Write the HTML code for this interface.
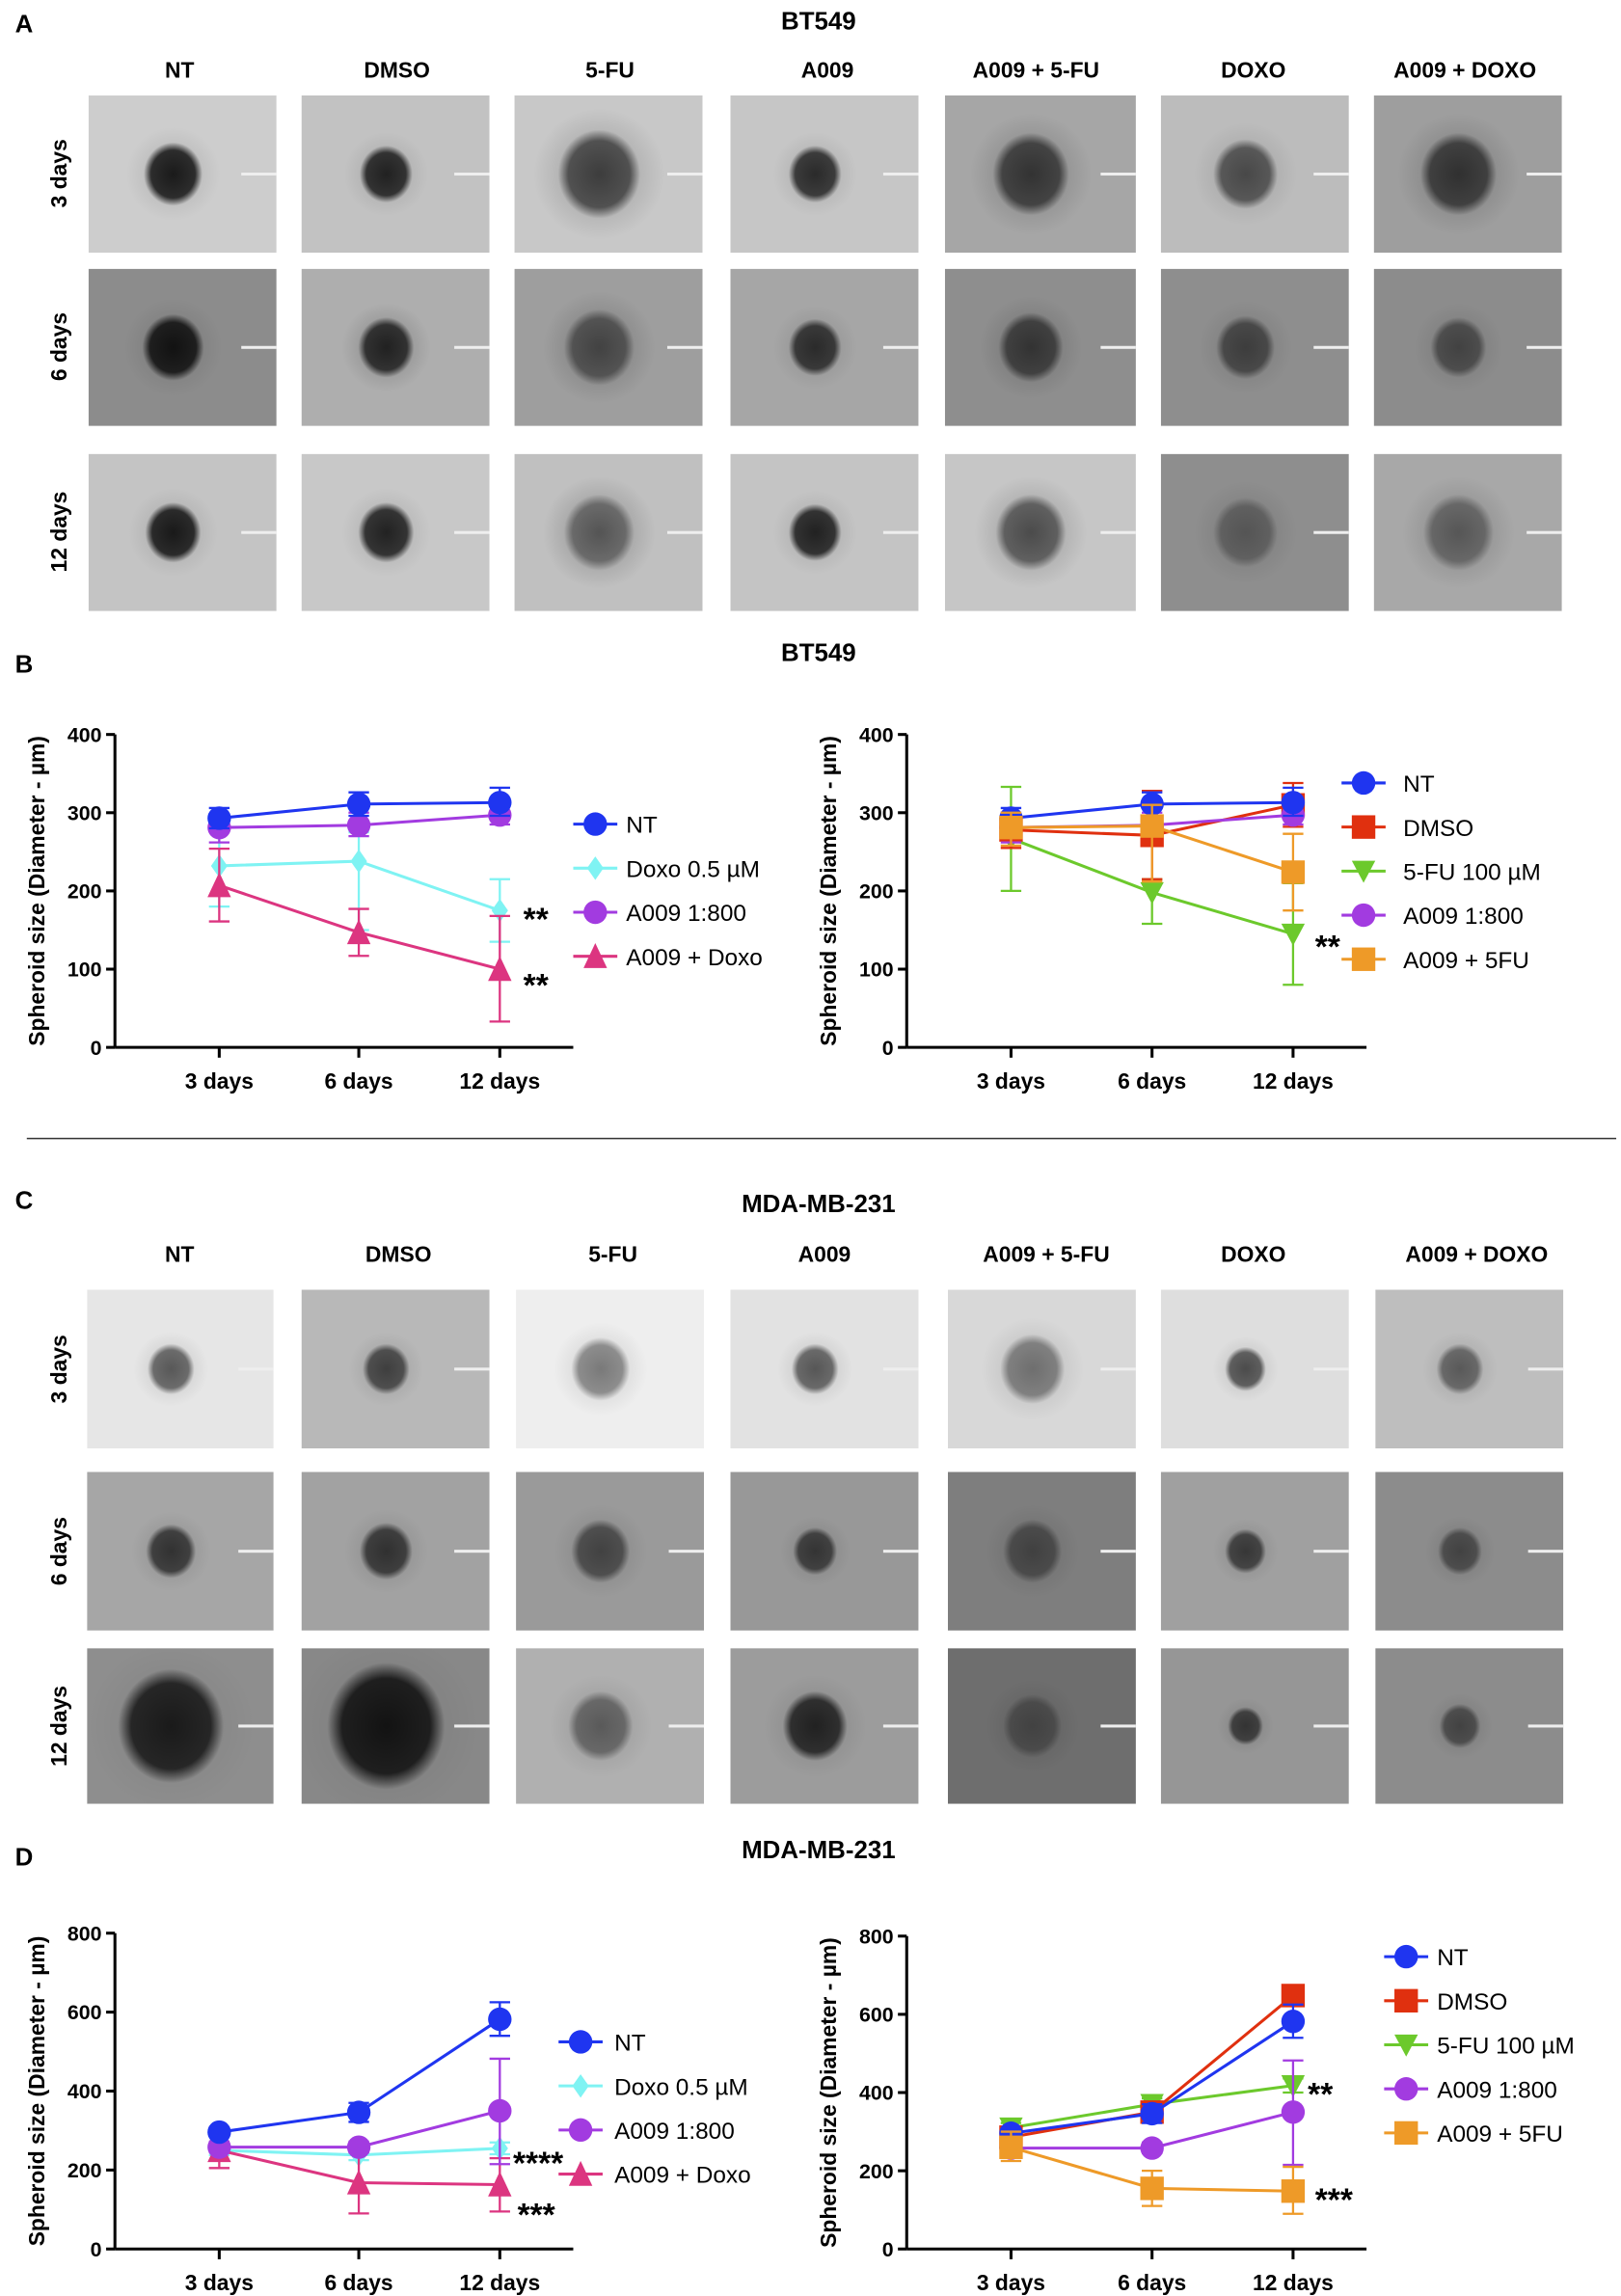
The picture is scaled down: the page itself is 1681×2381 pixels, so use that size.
<!DOCTYPE html>
<html><head><meta charset="utf-8">
<style>
html,body{margin:0;padding:0;background:#fff;}
svg{display:block;}
text{font-family:"Liberation Sans",sans-serif;}
</style></head>
<body>
<svg id="s" width="1681" height="2381" viewBox="0 0 1103 1563" xmlns="http://www.w3.org/2000/svg">
<defs>
<radialGradient id="blob" cx="50%" cy="50%" r="50%">
<stop offset="0%" stop-color="#000" stop-opacity="1"/>
<stop offset="75%" stop-color="#000" stop-opacity="0.9"/>
<stop offset="100%" stop-color="#000" stop-opacity="0"/>
</radialGradient>
<radialGradient id="halo" cx="50%" cy="50%" r="50%">
<stop offset="0%" stop-color="#000" stop-opacity="0.3"/>
<stop offset="100%" stop-color="#000" stop-opacity="0"/>
</radialGradient>
</defs>
<g id="g"></g>
</svg>
<script>
var o='';var cid=0;
function T(x,y,s,sz,anc,w,extra){o+='<text x="'+x+'" y="'+y+'" font-size="'+sz+'" text-anchor="'+(anc||'start')+'" font-weight="'+(w||'normal')+'" '+(extra||'')+'>'+s+'</text>';}
T(10,22,'A',17,'start','bold');T(557,20,'BT549',17,'middle','bold');
T(10,458,'B',17,'start','bold');T(557,450,'BT549',17,'middle','bold');
T(10,823,'C',17,'start','bold');T(557,825,'MDA-MB-231',17,'middle','bold');
T(10,1270,'D',17,'start','bold');T(557,1265,'MDA-MB-231',17,'middle','bold');
o+='<line x1="18" y1="775" x2="1100" y2="775" stroke="#333" stroke-width="1"/>';
var hdr=['NT','DMSO','5-FU','A009','A009 + 5-FU','DOXO','A009 + DOXO'];
var hxA=[122,270,415,563,705,853,997], hxC=[122,271,417,561,712,853,1005];
hdr.forEach(function(h,i){T(hxA[i],53,h,15,'middle','bold');T(hxC[i],859,h,15,'middle','bold');});
function rl(x,y,s){T(x,y,s,15,'middle','bold','transform="rotate(-90 '+x+' '+y+')"');}
rl(45,118,'3 days');rl(45,236,'6 days');rl(45,362,'12 days');
rl(45,932,'3 days');rl(45,1056,'6 days');rl(45,1175,'12 days');
function photos(cx,rows,bgs,blobs){
 rows.forEach(function(r,ri){cx.forEach(function(c,ci){
  var x=c[0],w=c[1]-c[0],y=r[0],h=r[1]-r[0];cid++;
  o+='<clipPath id="c'+cid+'"><rect x="'+x+'" y="'+y+'" width="'+w+'" height="'+h+'"/></clipPath><g clip-path="url(#c'+cid+')">';
  o+='<rect x="'+x+'" y="'+y+'" width="'+w+'" height="'+h+'" fill="'+bgs[ri][ci]+'"/>';
  var b=blobs[ri][ci];var bx=x+w*0.45,by=y+h*0.5;
  o+='<ellipse cx="'+bx+'" cy="'+by+'" rx="'+(b[0]*1.6)+'" ry="'+(b[0]*1.6)+'" fill="url(#halo)" opacity="'+(b[2]||0.5)+'"/>';
  o+='<ellipse cx="'+bx+'" cy="'+by+'" rx="'+b[0]+'" ry="'+(b[0]*1.08)+'" fill="url(#blob)" opacity="'+b[1]+'"/>';
  o+='<rect x="'+(x+w-24)+'" y="'+(by-1)+'" width="24" height="2" fill="#eee"/></g>';
 });});
}
var colA=[[60,188],[205,333],[350,478],[497,625],[643,773],[790,918],[935,1063]];
var rowA=[[65,172],[183,290],[309,416]];
photos(colA,rowA,
[['#cdcdcd','#c2c2c2','#c8c8c8','#c6c6c6','#a6a6a6','#bcbcbc','#9e9e9e'],
 ['#8c8c8c','#aeaeae','#9e9e9e','#a6a6a6','#8e8e8e','#8e8e8e','#8c8c8c'],
 ['#c4c4c4','#c8c8c8','#c0c0c0','#c4c4c4','#c6c6c6','#8e8e8e','#a8a8a8']],
[[[20,0.85],[18,0.8],[28,0.6,0.8],[18,0.75],[26,0.6,0.8],[22,0.55],[26,0.6,0.8]],
 [[21,0.85],[19,0.75,0.8],[24,0.45,0.8],[18,0.7],[22,0.55,0.7],[20,0.5],[19,0.45]],
 [[19,0.85],[19,0.8],[24,0.4,0.9],[18,0.8],[24,0.5,0.8],[22,0.3,0.5],[24,0.35,0.7]]]);
var colC=[[59,186],[205,333],[351,479],[497,625],[645,773],[790,918],[936,1064]];
var rowC=[[878,986],[1002,1110],[1122,1228]];
photos(colC,rowC,
[['#e6e6e6','#b8b8b8','#eeeeee','#e2e2e2','#d8d8d8','#dedede','#bebebe'],
 ['#a6a6a6','#a2a2a2','#9a9a9a','#989898','#7e7e7e','#a0a0a0','#8c8c8c'],
 ['#8e8e8e','#888888','#b0b0b0','#9c9c9c','#6e6e6e','#969696','#8c8c8c']],
[[[16,0.55],[16,0.6],[20,0.4],[16,0.55],[22,0.4],[14,0.6],[16,0.45]],
 [[17,0.65],[18,0.65],[20,0.5],[15,0.6],[20,0.4],[14,0.6],[15,0.45]],
 [[36,0.8,0.3],[40,0.85,0.3],[22,0.4],[22,0.75],[20,0.3],[12,0.6],[14,0.45]]]);
function chart(ax0,ax1,y0,ytop,vmax,step,xs,series,leg,lx,tx,stars){
 var sc=(y0-ytop)/vmax;function Y(v){return y0-v*sc;}
 o+='<line x1="'+ax0+'" y1="'+ytop+'" x2="'+ax0+'" y2="'+y0+'" stroke="#000" stroke-width="2"/>';
 o+='<line x1="'+ax0+'" y1="'+y0+'" x2="'+ax1+'" y2="'+y0+'" stroke="#000" stroke-width="2"/>';
 for(var v=0;v<=vmax;v+=step){o+='<line x1="'+(ax0-6)+'" y1="'+Y(v)+'" x2="'+ax0+'" y2="'+Y(v)+'" stroke="#000" stroke-width="2"/>';T(ax0-9,Y(v)+5,v,14,'end','bold');}
 var lb=['3 days','6 days','12 days'];
 xs.forEach(function(x,i){o+='<line x1="'+x+'" y1="'+y0+'" x2="'+x+'" y2="'+(y0+7)+'" stroke="#000" stroke-width="2"/>';T(x,y0+28,lb[i],15,'middle','bold');});
 var my=(y0+ytop)/2;T(ax0-48,my,'Spheroid size (Diameter - µm)',15,'middle','bold','transform="rotate(-90 '+(ax0-48)+' '+my+')"');
 series.forEach(function(s){
  var p=s.v.map(function(v,i){return xs[i]+','+Y(v);}).join(' ');
  s.e.forEach(function(e,i){if(!e)return;var x=xs[i];o+='<path d="M'+x+' '+Y(e[0])+'V'+Y(e[1])+'M'+(x-7)+' '+Y(e[0])+'h14M'+(x-7)+' '+Y(e[1])+'h14" stroke="'+s.c+'" stroke-width="1.5" fill="none"/>';});
  o+='<polyline points="'+p+'" fill="none" stroke="'+s.c+'" stroke-width="2"/>';
  s.v.forEach(function(v,i){mk(s.m,xs[i],Y(v),s.c,8);});
 });
 leg.forEach(function(l,i){var y=l[2];o+='<line x1="'+lx+'" y1="'+y+'" x2="'+(lx+30)+'" y2="'+y+'" stroke="'+l[1]+'" stroke-width="2"/>';mk(l[3],lx+15,y,l[1],8);T(tx,y+6,l[0],16);});
 stars.forEach(function(s){T(s[0],s[1],s[2],22,'start','bold');});
}
function mk(m,x,y,c,r){
 if(m=='o')o+='<circle cx="'+x+'" cy="'+y+'" r="'+r+'" fill="'+c+'"/>';
 else if(m=='s')o+='<rect x="'+(x-r)+'" y="'+(y-r)+'" width="'+(2*r)+'" height="'+(2*r)+'" fill="'+c+'"/>';
 else if(m=='d')o+='<path d="M'+x+' '+(y-r)+'L'+(x+r*0.7)+' '+y+'L'+x+' '+(y+r)+'L'+(x-r*0.7)+' '+y+'Z" fill="'+c+'"/>';
 else if(m=='t')o+='<path d="M'+x+' '+(y-r-1)+'L'+(x+r)+' '+(y+r)+'L'+(x-r)+' '+(y+r)+'Z" fill="'+c+'"/>';
 else if(m=='v')o+='<path d="M'+x+' '+(y+r)+'L'+(x+r)+' '+(y-r+1)+'L'+(x-r)+' '+(y-r+1)+'Z" fill="'+c+'"/>';
}
var BL='#1f35f0',CY='#7ff3f3',PU='#a23be0',PK='#dc3580',RD='#e0300f',GR='#6cc92c',OR='#ee9a28';
var NTb={c:BL,m:'o',v:[293,311,313],e:[[280,306],[296,326],[296,332]]};
var A9b={c:PU,m:'o',v:[281,284,297],e:[[262,298],[270,300],[285,310]]};
chart(78,390,713,500,400,100,[149,244,340],[
 {c:CY,m:'d',v:[232,238,175],e:[[180,285],[150,275],[135,215]]},
 {c:PK,m:'t',v:[207,147,100],e:[[161,254],[117,177],[33,168]]},A9b,NTb],
 [['NT',BL,561,'o'],['Doxo 0.5 µM',CY,591,'d'],['A009 1:800',PU,621,'o'],['A009 + Doxo',PK,651,'t']],
 390,426,[[356,633,'**'],[356,678,'**']]);
chart(617,930,713,500,400,100,[688,784,880],[
 {c:GR,m:'v',v:[267,198,145],e:[[200,333],[158,215],[80,210]]},
 {c:RD,m:'s',v:[278,271,310],e:[[255,300],[215,328],[282,338]]},
 A9b,NTb,
 {c:OR,m:'s',v:[281,283,224],e:[[258,300],[212,310],[175,273]]}],
 [['NT',BL,533,'o'],['DMSO',RD,563,'s'],['5-FU 100 µM',GR,593,'v'],['A009 1:800',PU,623,'o'],['A009 + 5FU',OR,653,'s']],
 913,955,[[895,652,'**']]);
var NTd={c:BL,m:'o',v:[296,346,582],e:[[285,308],[322,370],[540,625]]};
var A9d={c:PU,m:'o',v:[258,258,350],e:[[245,272],[245,272],[215,482]]};
chart(78,390,1531,1316,800,200,[149,244,340],[
 {c:CY,m:'d',v:[250,238,255],e:[[238,262],[225,250],[240,270]]},
 {c:PK,m:'t',v:[250,168,163],e:[[205,290],[90,245],[95,230]]},A9d,NTd],
 [['NT',BL,1390,'o'],['Doxo 0.5 µM',CY,1420,'d'],['A009 1:800',PU,1450,'o'],['A009 + Doxo',PK,1480,'t']],
 380,418,[[349,1480,'****'],[352,1515,'***']]);
chart(617,930,1531,1318,800,200,[688,784,880],[
 {c:GR,m:'v',v:[310,370,418],e:[[298,322],[355,385],[400,436]]},
 {c:RD,m:'s',v:[286,350,648],e:[[274,298],[335,365],[630,668]]},NTd,A9d,
 {c:OR,m:'s',v:[260,155,148],e:[[225,300],[110,200],[90,210]]}],
 [['NT',BL,1332,'o'],['DMSO',RD,1362,'s'],['5-FU 100 µM',GR,1392,'v'],['A009 1:800',PU,1422,'o'],['A009 + 5FU',OR,1452,'s']],
 942,978,[[890,1433,'**'],[895,1505,'***']]);
document.getElementById('g').innerHTML=o;
</script>
</body></html>
